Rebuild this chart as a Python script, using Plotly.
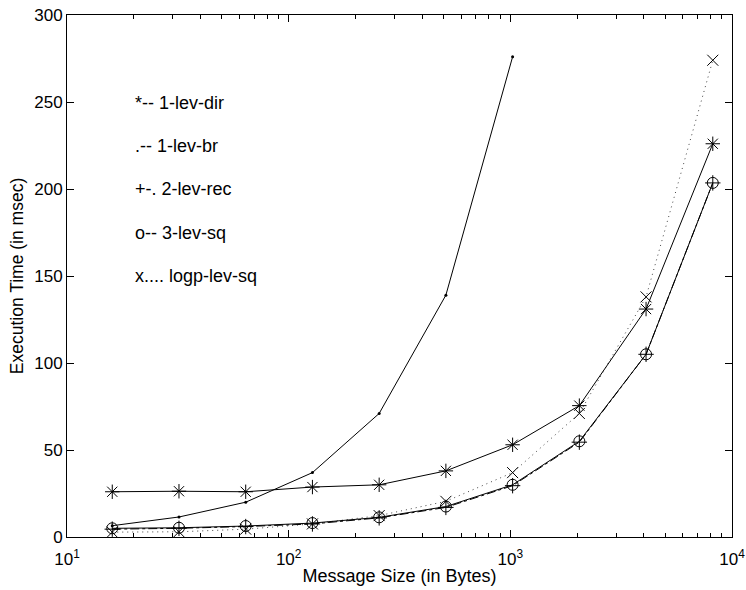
import plotly.graph_objects as go

msg_size = [16, 32, 64, 128, 256, 512, 1024, 2048, 4096, 8192]
lev1_dir = [26, 26.3, 26, 28.7, 30, 38, 53, 75.5, 131, 226]
lev1_br_x = [16, 32, 64, 128, 256, 512, 1024]
lev1_br = [6.5, 11.5, 20, 37, 71, 139, 276]
lev2_rec = [4.5, 5, 6, 7.5, 11, 17, 29.5, 54.5, 105, 203.5]
lev3_sq = [5, 5.3, 6.3, 8, 11.3, 17.5, 30, 55, 105, 203.5]
logp_sq = [2.8, 3, 4.5, 7.5, 12.3, 20.5, 37, 71, 138, 274]

x_tickvals = [10, 100, 1000, 10000]
x_ticktext = ["10<sup>1</sup>", "10<sup>2</sup>", "10<sup>3</sup>", "10<sup>4</sup>"]
x_minor = [m * d for d in (10, 100, 1000) for m in range(2, 10)]

legend_texts = ["*-- 1-lev-dir", ".-- 1-lev-br", "+-. 2-lev-rec", "o-- 3-lev-sq", "x.... logp-lev-sq"]
legend_y = [249.5, 224.5, 200, 175, 150]
legend_logx = 1.298

FONT = "Liberation Sans, Arial, sans-serif"

fig = go.Figure()
fig.add_trace(go.Scatter(x=msg_size, y=logp_sq, mode="lines+markers",
                         line=dict(color="#444444", width=1, dash="1px,4px"),
                         marker=dict(symbol="x-thin-open", size=11, color="black",
                                     line=dict(width=1, color="black"))))
fig.add_trace(go.Scatter(x=msg_size, y=lev2_rec, mode="lines+markers",
                         line=dict(color="black", width=1, dash="dashdot"),
                         marker=dict(symbol="cross-thin-open", size=11, color="black",
                                     line=dict(width=1, color="black"))))
fig.add_trace(go.Scatter(x=msg_size, y=lev3_sq, mode="lines+markers",
                         line=dict(color="black", width=1),
                         marker=dict(symbol="circle-open", size=11, color="black",
                                     line=dict(width=1, color="black"))))
fig.add_trace(go.Scatter(x=lev1_br_x, y=lev1_br, mode="lines+markers",
                         line=dict(color="black", width=1),
                         marker=dict(symbol="circle", size=3, color="black")))
fig.add_trace(go.Scatter(x=msg_size, y=lev1_dir, mode="lines+markers",
                         line=dict(color="black", width=1),
                         marker=dict(symbol="asterisk-open", size=12, color="black",
                                     line=dict(width=1, color="black"))))

for t, y in zip(legend_texts, legend_y):
    fig.add_annotation(x=legend_logx, y=y, xref="x", yref="y", text=t, showarrow=False,
                       xanchor="left", yanchor="middle",
                       font=dict(family=FONT, size=18, color="black"))

fig.update_layout(
    width=746, height=590,
    margin=dict(l=67, r=14, t=15, b=53),
    plot_bgcolor="white", paper_bgcolor="white",
    showlegend=False,
    font=dict(family=FONT, size=17, color="black"),
)
fig.update_xaxes(type="log", range=[0.99995, 4.00005], tickvals=x_tickvals, ticktext=x_ticktext,
                 automargin=False,
                 showgrid=False, zeroline=False, showline=True, linecolor="black",
                 linewidth=1, mirror="allticks", ticks="inside", ticklen=7,
                 tickcolor="black", ticklabelstandoff=7,
                 minor=dict(ticks="inside", ticklen=4, tickcolor="black", tickvals=x_minor,
                            showgrid=False),
                 title=dict(text="Message Size (in Bytes)", standoff=0,
                            font=dict(family=FONT, size=18)),
                 tickfont=dict(family=FONT, size=17))
fig.update_yaxes(range=[0, 300], dtick=50, showgrid=False, zeroline=False,
                 automargin=False,
                 showline=True, linecolor="black", linewidth=1, mirror="allticks",
                 ticks="inside", ticklen=7, tickcolor="black",
                 title=dict(text="Execution Time (in msec)", standoff=6,
                            font=dict(family=FONT, size=17.5)),
                 tickfont=dict(family=FONT, size=17))

fig.write_html("out.html")
